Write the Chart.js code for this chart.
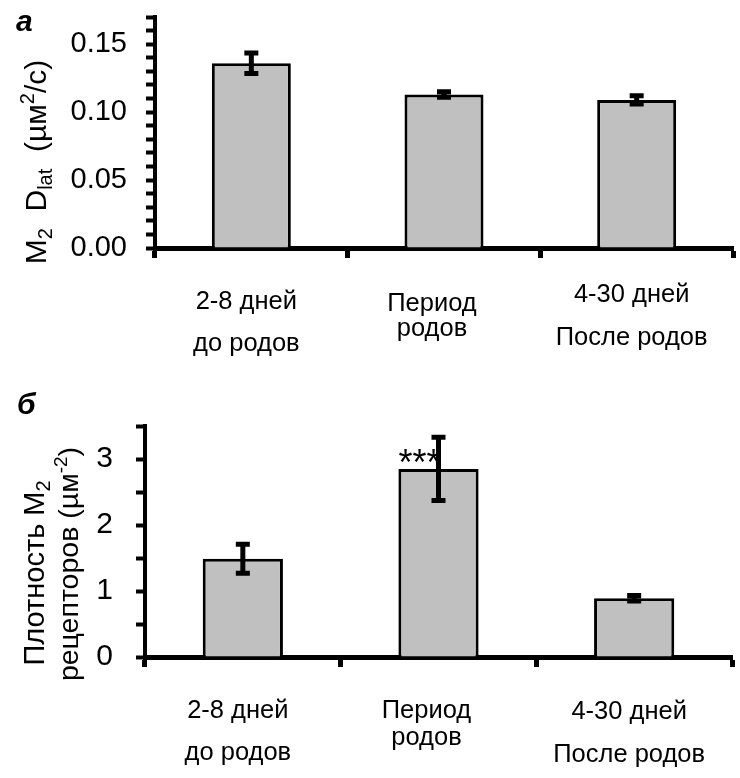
<!DOCTYPE html>
<html><head><meta charset="utf-8">
<script src="https://cdn.jsdelivr.net/npm/chart.js@4.4.1/dist/chart.umd.min.js"></script>
<style>
html,body{margin:0;padding:0;background:#fff;width:740px;height:778px;overflow:hidden}
canvas{position:absolute;left:0}
#ca{top:0}
#cb{top:380px}
</style></head><body>
<canvas id="ca" width="740" height="380"></canvas>
<canvas id="cb" width="740" height="398"></canvas>
<script>
// ---- data ----
const categories = [['2-8 дней', 'до родов'], ['Период', 'родов'], ['4-30 дней', 'После родов']];
const dlatMeans = [0.136, 0.113, 0.109];
const dlatErrors = [0.0075, 0.002, 0.003];
const dlatTickLabels = ['0.00', '0.05', '0.10', '0.15'];
const densityMeans = [1.49, 2.85, 0.89];
const densityErrors = [0.22, 0.48, 0.04];
const densityTickLabels = ['0', '1', '2', '3'];
const densitySignificance = ['', '***', ''];

const FONT = "'Liberation Sans', Arial, sans-serif";

function drawRich(ctx, segs, cx, cy) {
  ctx.save();
  ctx.translate(cx, cy);
  ctx.rotate(-Math.PI / 2);
  ctx.fillStyle = '#000';
  ctx.textBaseline = 'alphabetic';
  ctx.textAlign = 'left';
  let total = 0;
  segs.forEach(s => { ctx.font = s.size + 'px ' + FONT; s.w = ctx.measureText(s.t).width; total += s.w; });
  let x = -total / 2;
  segs.forEach(s => { ctx.font = s.size + 'px ' + FONT; ctx.fillText(s.t, x, s.dy); x += s.w; });
  ctx.restore();
}

const errorBarPlugin = {
  id: 'errorBars',
  afterDatasetsDraw(chart, args, opts) {
    const ctx = chart.ctx, y = chart.scales.y;
    const meta = chart.getDatasetMeta(0);
    const ds = chart.data.datasets[0];
    ctx.save();
    ctx.strokeStyle = '#000';
    meta.data.forEach((bar, i) => {
      const v = ds.data[i], e = opts.errors[i];
      const yt = y.getPixelForValue(v + e), yb = y.getPixelForValue(v - e);
      ctx.lineWidth = 5;
      ctx.beginPath(); ctx.moveTo(bar.x, yt); ctx.lineTo(bar.x, yb); ctx.stroke();
      ctx.beginPath();
      ctx.moveTo(bar.x - 7, yt); ctx.lineTo(bar.x + 7, yt);
      ctx.moveTo(bar.x - 7, yb); ctx.lineTo(bar.x + 7, yb);
      ctx.stroke();
      if (opts.marks && opts.marks[i]) {
        ctx.fillStyle = '#000';
        ctx.font = '36px ' + FONT;
        ctx.textAlign = 'right';
        ctx.textBaseline = 'alphabetic';
        ctx.fillText(opts.marks[i], bar.x + 2, y.getPixelForValue(v) + 6);
      }
    });
    ctx.restore();
  },
  afterDraw(chart, args, opts) {
    const ctx = chart.ctx, x = chart.scales.x, area = chart.chartArea;
    ctx.save();
    ctx.fillStyle = '#000';
    ctx.font = '25.5px ' + FONT;
    ctx.textAlign = 'center';
    ctx.textBaseline = 'alphabetic';
    chart.data.labels.forEach((lab, i) => {
      const px = x.getPixelForValue(i) + opts.labelDx[i];
      lab.forEach((line, j) => ctx.fillText(line, px, area.bottom + opts.labelDy[i][j]));
    });
    // panel letter
    ctx.font = 'italic bold 30px ' + FONT;
    ctx.textAlign = 'left';
    ctx.fillText(opts.letter, opts.letterPos[0], opts.letterPos[1]);
    // y titles
    opts.titles.forEach(t => drawRich(ctx, t.segs, t.cx, t.cy));
    ctx.restore();
  }
};

function makeChart(id, means, errors, tickLabels, cfg) {
  return new Chart(document.getElementById(id), {
    type: 'bar',
    data: {
      labels: categories,
      datasets: [{
        data: means,
        backgroundColor: '#c0c0c0',
        borderColor: '#000',
        borderWidth: 3,
        barPercentage: 0.41,
        categoryPercentage: 1
      }]
    },
    options: {
      responsive: false,
      animation: false,
      layout: { padding: cfg.padding },
      plugins: {
        legend: { display: false },
        tooltip: { enabled: false },
        errorBars: {
          errors: errors, marks: cfg.marks,
          labelDx: cfg.labelDx, labelDy: cfg.labelDy,
          letter: cfg.letter, letterPos: cfg.letterPos, titles: cfg.titles
        }
      },
      scales: {
        x: {
          z: 1,
          offset: true,
          afterFit(s) { s.height = cfg.xHeight; s.paddingLeft = 0; s.paddingRight = 0; },
          border: { color: '#000', width: 5 },
          grid: { offset: true, drawOnChartArea: false, drawTicks: true, tickLength: 10, tickWidth: 5, tickColor: '#000' },
          ticks: { display: false }
        },
        y: {
          min: 0, max: cfg.max,
          afterFit(s) { s.width = cfg.yWidth; s.paddingTop = 0; s.paddingBottom = 0; },
          border: { color: '#000', width: 4 },
          grid: { drawOnChartArea: false, drawTicks: true, tickLength: 9, tickWidth: 4, tickColor: '#000' },
          ticks: {
            stepSize: cfg.step, autoSkip: false, padding: cfg.tickPad, color: '#000',
            font: { family: FONT, size: cfg.tickSize },
            callback(v) {
              const lab = tickLabels.find(l => Math.abs(Number(l) - v) < 1e-6);
              return lab === undefined ? '' : lab;
            }
          }
        }
      }
    },
    plugins: [errorBarPlugin]
  });
}

makeChart('ca', dlatMeans, dlatErrors, dlatTickLabels, {
  padding: { top: 17, right: 7, left: 0, bottom: 0 },
  xHeight: 132, yWidth: 155, max: 0.17, step: 0.01, tickPad: 19, tickSize: 29,
  marks: null,
  labelDx: [-5, -12, -5],
  labelDy: [[61, 103], [63, 88], [54, 97]],
  letter: 'а', letterPos: [16, 31],
  titles: [{ cx: 46, cy: 162, segs: [
    { t: 'M', size: 30, dy: 0 }, { t: '2', size: 20, dy: 6 },
    { t: '  D', size: 30, dy: 0 }, { t: 'lat', size: 20, dy: 6 },
    { t: '  (µм', size: 30, dy: 0 }, { t: '2', size: 20, dy: -12 },
    { t: '/с)', size: 30, dy: 0 }
  ] }]
});

makeChart('cb', densityMeans, densityErrors, densityTickLabels, {
  padding: { top: 46, right: 8, left: 0, bottom: 0 },
  xHeight: 121, yWidth: 145, max: 3.5, step: 0.5, tickPad: 23, tickSize: 30,
  marks: densitySignificance,
  labelDx: [-5, -12, -5],
  labelDy: [[61, 103], [61, 88], [62, 105]],
  letter: 'б', letterPos: [17, 34],
  titles: [
    { cx: 44, cy: 193, segs: [
      { t: 'Плотность M', size: 29, dy: 0 }, { t: '2', size: 20, dy: 6 }
    ] },
    { cx: 78, cy: 184, segs: [
      { t: 'рецепторов (µм', size: 28.5, dy: 0 }, { t: '-2', size: 19, dy: -11 }, { t: ')', size: 28.5, dy: 0 }
    ] }
  ]
});
</script>
</body></html>
